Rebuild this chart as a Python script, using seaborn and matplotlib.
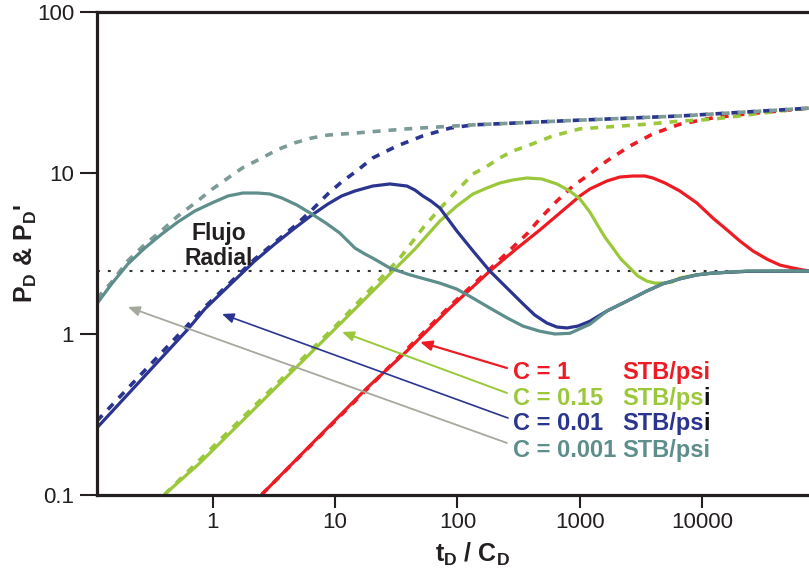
import matplotlib
matplotlib.use("Agg")
import matplotlib.pyplot as plt
import seaborn as sns

# ---- type-curve readings: t_D/C_D against P_D' (solid) and P_D (dashed) ----
# C = 1 STB/psi
td_c1_der = [2.52, 18.2, 38.6, 86.7, 184, 294, 472, 687, 1002, 1210, 1667, 2128, 2716, 3405, 3963,
             4966, 6577, 9070, 12240, 15990, 20360, 26010, 33860, 43250, 55230, 74800]
pd_c1_der = [0.101, 0.462, 0.784, 1.45, 2.46, 3.32, 4.43, 5.64, 7.20, 7.96, 8.92, 9.44, 9.58, 9.58, 9.31,
             8.67, 7.73, 6.51, 5.25, 4.43, 3.78, 3.28, 2.92, 2.68, 2.57, 2.46]
td_c1_p = [2.52, 86.7, 184, 369, 472, 650, 879, 1210, 1667, 2570, 3963, 6577, 12240, 23230, 43250, 74800]
pd_c1_p = [0.101, 1.49, 2.53, 4.18, 5.2, 6.70, 8.30, 9.86, 11.9, 14.7, 17.5, 20.1, 22.0, 23.3, 24.3, 25.3]

# C = 0.15 STB/psi
td_c015_der = [0.405, 0.783, 10.9, 29.6, 44.9, 71.8, 98.9, 134, 174, 222, 284, 369, 490, 650, 830, 1002,
               1210, 1380, 1603, 1866, 2168, 2570, 2985, 3537, 4110, 4778, 5660, 6577, 9060, 12240, 23230, 74800]
pd_c015_der = [0.101, 0.158, 1.15, 2.46, 3.37, 5.03, 6.24, 7.41, 8.07, 8.67, 9.05, 9.31, 9.18, 8.55, 7.73, 6.90,
               5.72, 4.82, 4.00, 3.42, 2.92, 2.57, 2.29, 2.13, 2.07, 2.07, 2.10, 2.23, 2.33, 2.39, 2.45, 2.46]
td_c015_p = [0.405, 10.9, 33.8, 52.1, 67.9, 86.7, 134, 174, 222, 284, 369, 472, 603, 1002, 3537, 6577,
             12240, 43250, 74800]
pd_c015_p = [0.101, 1.19, 2.96, 4.55, 5.72, 7.0, 9.86, 11.0, 12.4, 13.7, 14.7, 15.8, 17.0, 18.8, 20.1, 21.0,
             21.6, 24.3, 25.3]

# C = 0.01 STB/psi
td_c001_der = [0.1127, 0.625, 0.86, 1.377, 2.20, 3.21, 4.68, 6.45, 8.71, 11.3, 14.5, 20.3, 28.0, 38.6, 44.9,
               52.1, 60.6, 71.8, 98.9, 134, 184, 254, 343, 429, 538, 650, 785, 965, 1210, 1667, 2427, 3537,
               4778, 6577, 9060, 12240, 23230, 74800]
pd_c001_der = [0.261, 1.07, 1.43, 2.02, 2.84, 3.62, 4.55, 5.48, 6.41, 7.20, 7.73, 8.30, 8.55, 8.30, 7.84,
               7.20, 6.70, 6.06, 4.36, 3.28, 2.46, 1.93, 1.54, 1.31, 1.17, 1.105, 1.09, 1.12, 1.20, 1.39, 1.60, 1.85,
               2.05, 2.20, 2.33, 2.39, 2.45, 2.46]
td_c001_p = [0.1127, 0.86, 2.20, 4.68, 6.45, 8.71, 11.3, 15.0, 20.3, 31.9, 52.1, 86.7, 134, 1002, 6577,
             59560, 74800]
pd_c001_p = [0.288, 1.47, 2.92, 4.69, 5.89, 7.41, 8.8, 10.3, 12.4, 14.7, 17.0, 19.0, 19.9, 21.3, 22.6,
             25.0, 25.3]

# C = 0.001 STB/psi
td_c0001_der = [0.1127, 0.149, 0.202, 0.278, 0.383, 0.517, 0.713, 0.981, 1.33, 1.76, 2.33, 2.92, 3.66, 4.86,
                6.45, 8.40, 10.9, 14.5, 17.5, 20.3, 28.0, 40.8, 71.8, 98.9, 134, 184, 254, 343, 472, 626, 830,
                1210, 1667, 2427, 3537, 4778, 6577, 9060, 12240, 23230, 74800]
pd_c0001_der = [1.54, 2.05, 2.72, 3.42, 4.18, 4.96, 5.81, 6.51, 7.20, 7.51, 7.51, 7.41, 7.00, 6.33,
                5.56, 4.89, 4.24, 3.42, 3.14, 2.96, 2.57, 2.33, 2.07, 1.90, 1.67, 1.45, 1.26, 1.12, 1.04, 1.00, 1.01,
                1.15, 1.39, 1.60, 1.85, 2.05, 2.20, 2.33, 2.39, 2.46, 2.46]
td_c0001_p = [0.1127, 0.149, 0.202, 0.278, 0.383, 0.517, 0.713, 0.981, 1.33, 1.76, 2.52, 3.40, 4.68, 6.45,
              8.71, 14.5, 38.6, 134, 1002, 6577, 59560, 74800]
pd_c0001_p = [1.66, 2.1, 2.85, 3.6, 4.4, 5.4, 6.5, 7.9, 9.31, 10.8, 12.4, 14.0, 15.4, 16.5,
              17.2, 17.7, 18.8, 19.9, 21.3, 22.6, 25.0, 25.3]

# radial-flow stabilisation level of the derivative
radial_level = 2.46

storage_labels = ["C = 1", "C = 0.15", "C = 0.01", "C = 0.001"]
unit_label = "STB/psi"
x_ticks = [1, 10, 100, 1000, 10000]
x_ticklabels = ["1", "10", "100", "1000", "10000"]
y_ticks = [0.1, 1, 10, 100]
y_ticklabels = ["0.1", "1", "10", "100"]

RED = "#ED1C24"
GREEN = "#9BC83B"
BLUE = "#2B3590"
TEAL = "#5E8E8B"
TEAL_DASH = "#7C9A97"
GRAY_ARROW = "#A5A99D"
INK = "#231F20"

sns.set_style("white")
plt.rcParams["font.family"] = ["Liberation Sans", "DejaVu Sans"]
plt.rcParams["mathtext.fontset"] = "custom"
plt.rcParams["mathtext.rm"] = "Liberation Sans"
plt.rcParams["mathtext.bf"] = "Liberation Sans:bold"
plt.rcParams["mathtext.it"] = "Liberation Sans:italic"

fig = plt.figure(figsize=(8.09, 5.73), dpi=100)
ax = fig.add_axes([97 / 809, 78 / 573, 712 / 809, 483 / 573])
ax.set_xscale("log")
ax.set_yscale("log")

dash_kw = dict(linewidth=2.6, dashes=(2.2, 2.2), dash_capstyle="butt")
solid_kw = dict(linewidth=2.3, solid_joinstyle="round")

# pressure curves (dashed), drawn so the short-storage curve sits on top
for x, y, c in [(td_c1_p, pd_c1_p, RED), (td_c015_p, pd_c015_p, GREEN),
                (td_c001_p, pd_c001_p, BLUE), (td_c0001_p, pd_c0001_p, TEAL_DASH)]:
    sns.lineplot(x=x, y=y, ax=ax, color=c, estimator=None, sort=False, **dash_kw)

# derivative curves (solid)
for x, y, c in [(td_c1_der, pd_c1_der, RED), (td_c015_der, pd_c015_der, GREEN),
                (td_c001_der, pd_c001_der, BLUE), (td_c0001_der, pd_c0001_der, TEAL)]:
    sns.lineplot(x=x, y=y, ax=ax, color=c, estimator=None, sort=False, **solid_kw)

ax.axhline(radial_level, color="#333333", linewidth=1.5, linestyle=(0, (1.4, 3.8)), zorder=1)

ax.set_xlim(0.113, 74800)
ax.set_ylim(0.1, 100)
ax.set_xticks(x_ticks)
ax.set_xticklabels(x_ticklabels)
ax.set_yticks(y_ticks)
ax.set_yticklabels(y_ticklabels)
ax.minorticks_off()
ax.tick_params(axis="y", left=True, length=12.5, width=1.5, pad=4, labelsize=16,
               colors=INK, direction="out")
ax.tick_params(axis="x", bottom=True, length=9.5, width=1.5, pad=3, labelsize=16,
               colors=INK, direction="out")
for side in ["left", "bottom", "top"]:
    ax.spines[side].set_linewidth(2.3)
    ax.spines[side].set_color(INK)
ax.spines["right"].set_visible(False)

ax.set_xlabel(r"$\mathbf{t_D}$ / $\mathbf{C_D}$", fontsize=18, fontweight="bold", color=INK)
ax.xaxis.set_label_coords(0.527, -0.095)
ax.set_ylabel(r"$\mathbf{P_D}$ & $\mathbf{P_D}$'", fontsize=18, fontweight="bold", color=INK)
ax.yaxis.set_label_coords(-0.082, 0.5)

# flow regime note
ax.text(0.1713, 0.528, "Flujo", transform=ax.transAxes, ha="center", va="baseline",
        fontsize=16.5, fontweight="bold", color=INK)
ax.text(0.1713, 0.476, "Radial", transform=ax.transAxes, ha="center", va="baseline",
        fontsize=16.5, fontweight="bold", color=INK)

# storage labels with pointer arrows
row_base = [0.2402, 0.1863, 0.1346, 0.0787]
row_colors = [RED, GREEN, BLUE, TEAL]
arrow_colors = [RED, GREEN, BLUE, GRAY_ARROW]
arrow_heads = [(0.4537, 0.3168), (0.3441, 0.3375), (0.1756, 0.3747), (0.0435, 0.3892)]
arrow_tails = [(0.5758, 0.2629), (0.5758, 0.2112), (0.5772, 0.1594), (0.5758, 0.1077)]
arrow_widths = [1.6, 1.4, 1.2, 1.3]
black_i = [False, True, True, False]

for lab, yb, col, acol, head, tail, aw, bi in zip(storage_labels, row_base, row_colors,
                                                   arrow_colors, arrow_heads, arrow_tails,
                                                   arrow_widths, black_i):
    ax.annotate("", xy=head, xytext=tail, xycoords="axes fraction",
                textcoords="axes fraction",
                arrowprops=dict(arrowstyle="-|>,head_length=0.7,head_width=0.3",
                                color=acol, lw=aw, shrinkA=0, shrinkB=0))
    ax.text(0.5843, yb, lab, transform=ax.transAxes, ha="left", va="baseline",
            fontsize=17, fontweight="bold", color=col)
    if bi:
        t = ax.text(0.7374, yb, unit_label[:-1], transform=ax.transAxes, ha="left",
                    va="baseline", fontsize=17, fontweight="bold", color=col)
        fig.canvas.draw()
        bb = t.get_window_extent(fig.canvas.get_renderer())
        xa = ax.transAxes.inverted().transform((bb.x1, 0))[0]
        ax.text(xa, yb, unit_label[-1], transform=ax.transAxes, ha="left",
                va="baseline", fontsize=17, fontweight="bold", color="#111111")
    else:
        ax.text(0.7374, yb, unit_label, transform=ax.transAxes, ha="left",
                va="baseline", fontsize=17, fontweight="bold", color=col)

fig.savefig("out.png", dpi=100)
